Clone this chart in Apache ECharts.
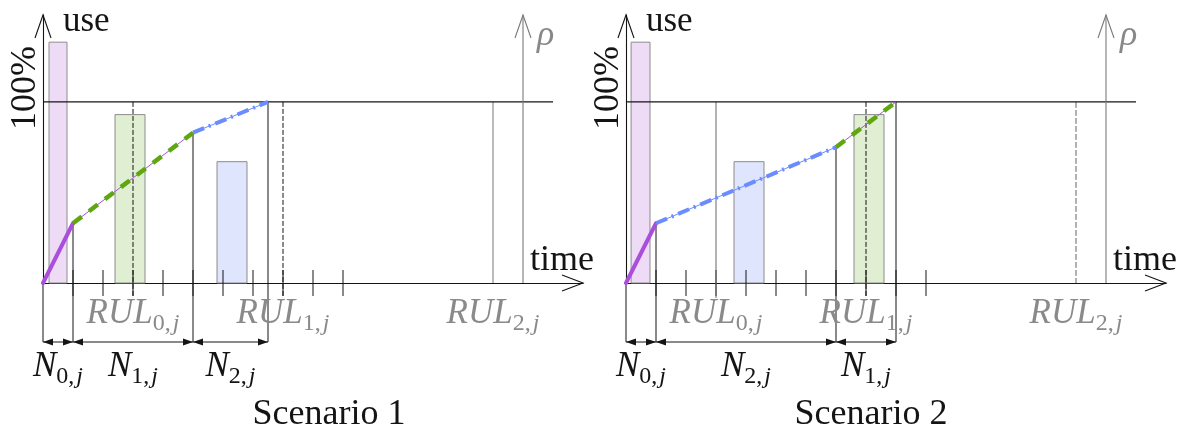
<!DOCTYPE html>
<html><head><meta charset="utf-8">
<script src="https://cdn.jsdelivr.net/npm/echarts@6/dist/echarts.min.js"></script>
<style>html,body{margin:0;padding:0;background:#fff}#c{width:1179px;height:432px}</style>
</head><body><div id="c"></div>
<script>
// ---------------- data ----------------
const T_MAX = 18;            // time axis extent
const Y_MAX = 148;           // use axis extent (%)
const FULL = 100;            // 100 % level
const FULL_END = 17;         // where the 100 % line stops
const RHO_T = 16;            // position of the rho axis
const ticks = [1, 2, 3, 4, 5, 6, 7, 8, 9, 10];
const phaseLoad = [133, 93, 67];      // bar height of phase 0,1,2
const rulTimes = [3, 8, 15];
const rulIdx = ['0', '1', '2'];
const titles = ['Scenario 1', 'Scenario 2'];

// Scenario 1
const s1Path = [[0, 0], [1, 33], [5, 83], [7.5, 100]];
const s1Order = [0, 1, 2];
const s1BarSpans = [[0.2, 0.8], [2.4, 3.4], [5.8, 6.8]];
const s1RulLook = ['dash', 'dash', 'gray'];
// Scenario 2
const s2Path = [[0, 0], [1, 33], [7, 75], [9, 100]];
const s2Order = [0, 2, 1];
const s2BarSpans = [[0.17, 0.8], [3.6, 4.6], [7.6, 8.6]];
const s2RulLook = ['graySolid', 'dash', 'grayDash'];

// ---------------- style ----------------
const PHASE_COLOR = ['#a94fdc', '#5ea70f', '#6a8cff'];
const PHASE_FILL = ['#eedcf6', '#e0efd2', '#dfe5fc'];
const INK = '#141414', GRAY = '#888888';
const SERIF = '"Liberation Serif","DejaVu Serif",serif';
const RUL_LOOK = {
  dash: { stroke: INK, dash: [5, 2], ext: 15 },
  graySolid: { stroke: '#666', dash: null, ext: 15 },
  gray: { stroke: '#777', dash: null, ext: 0 },
  grayDash: { stroke: '#666', dash: [6, 2], ext: 0 }
};
const GRID_LEFT = [43, 626];
const TITLE_X = [329, 871];

function richSub(color) {
  return {
    m: { fontFamily: SERIF, fontSize: 35, fontStyle: 'italic', fill: color, lineHeight: 40, verticalAlign: 'top' },
    s: { fontFamily: SERIF, fontSize: 24, fontStyle: 'normal', fill: color, lineHeight: 24, verticalAlign: 'bottom' },
    j: { fontFamily: SERIF, fontSize: 24, fontStyle: 'italic', fill: color, lineHeight: 24, verticalAlign: 'bottom', padding: [0, 0, 0, 2] }
  };
}
function subText(main, idx) { return '{m|' + main + '}{s|' + idx + ',}{j|j}'; }

function scenarioSeries(g, path, order, barSpans, rulLook) {
  const ax = { xAxisIndex: g, yAxisIndex: g };
  const list = [];
  // bars
  list.push(Object.assign({
    type: 'custom', z: 1, clip: false,
    data: barSpans.map((s, k) => [s[0], s[1], phaseLoad[order[k]], order[k]]),
    renderItem: (p, api) => {
      const a = api.coord([api.value(0), api.value(2)]);
      const b = api.coord([api.value(1), 0]);
      const ph = api.value(3);
      return { type: 'rect', shape: { x: a[0], y: a[1], width: b[0] - a[0], height: b[1] - a[1] },
        style: { fill: PHASE_FILL[ph], stroke: '#8c8c8c', lineWidth: 1 } };
    }
  }, ax));
  // ticks
  list.push(Object.assign({
    type: 'custom', z: 2, clip: false, data: ticks.map(t => [t]),
    renderItem: (p, api) => {
      const c = api.coord([api.value(0), 0]);
      return { type: 'line', shape: { x1: c[0], y1: c[1] - 13, x2: c[0], y2: c[1] + 13 }, style: { stroke: INK, lineWidth: 1 } };
    }
  }, ax));
  // phase boundary verticals
  list.push(Object.assign({
    type: 'custom', z: 2, clip: false, data: path.map(pt => [pt[0], pt[1]]),
    renderItem: (p, api) => {
      const a = api.coord([api.value(0), api.value(1)]);
      const b = api.coord([api.value(0), 0]);
      return { type: 'line', shape: { x1: a[0], y1: a[1], x2: b[0], y2: b[1] + 59 }, style: { stroke: INK, lineWidth: 1 } };
    }
  }, ax));
  // RUL verticals + labels
  list.push(Object.assign({
    type: 'custom', z: 2, clip: false, data: rulTimes.map((t, k) => [t, k]),
    renderItem: (p, api) => {
      const k = api.value(1);
      const look = RUL_LOOK[rulLook[k]];
      const a = api.coord([api.value(0), FULL]);
      const b = api.coord([api.value(0), 0]);
      return { type: 'group', children: [
        { type: 'line', shape: { x1: a[0], y1: a[1], x2: b[0], y2: b[1] + look.ext },
          style: { stroke: look.stroke, lineWidth: 1, lineDash: look.dash } },
        { type: 'text', x: b[0], y: b[1] + 33, z2: 5,
          style: { text: subText('RUL', rulIdx[k]), rich: richSub('#8a8a8a'), align: 'center', verticalAlign: 'middle' } }
      ] };
    }
  }, ax));
  // brackets N
  const brackets = [];
  for (let k = 0; k < path.length - 1; k++) brackets.push([path[k][0], path[k + 1][0], order[k]]);
  list.push(Object.assign({
    type: 'custom', z: 2, clip: false, data: brackets,
    renderItem: (p, api) => {
      const a = api.coord([api.value(0), 0]), b = api.coord([api.value(1), 0]);
      const y = a[1] + 59, L = 10, H = 3.5;
      return { type: 'group', children: [
        { type: 'line', shape: { x1: a[0], y1: y, x2: b[0], y2: y }, style: { stroke: INK, lineWidth: 1 } },
        { type: 'polygon', shape: { points: [[a[0], y], [a[0] + L, y - H], [a[0] + L, y + H]] }, style: { fill: INK } },
        { type: 'polygon', shape: { points: [[b[0], y], [b[0] - L, y - H], [b[0] - L, y + H]] }, style: { fill: INK } },
        { type: 'text', x: (a[0] + b[0]) / 2, y: y + 27,
          style: { text: subText('N', String(api.value(2))), rich: richSub(INK), align: 'center', verticalAlign: 'middle' } }
      ] };
    }
  }, ax));
  // decorations: arrows, 100% line, rho axis, texts
  list.push(Object.assign({
    type: 'custom', z: 2, clip: false, data: [[0]],
    renderItem: (p, api) => {
      const o = api.coord([0, 0]);
      const xe = api.coord([T_MAX, 0]);
      const ye = api.coord([0, Y_MAX]);
      const f0 = api.coord([0, FULL]), f1 = api.coord([FULL_END, FULL]);
      const r0 = api.coord([RHO_T, 0]), r1 = api.coord([RHO_T, Y_MAX]);
      const ln = (pts, col) => ({ type: 'polyline', shape: { points: pts }, style: { stroke: col, lineWidth: 1.1, fill: null } });
      return { type: 'group', children: [
        { type: 'line', shape: { x1: f0[0], y1: f0[1], x2: f1[0], y2: f1[1] }, style: { stroke: INK, lineWidth: 1.1 } },
        ln([[xe[0] - 21, xe[1] - 8], [xe[0], xe[1]], [xe[0] - 21, xe[1] + 8]], INK),
        ln([[ye[0] - 8, ye[1] + 23], [ye[0], ye[1]], [ye[0] + 8, ye[1] + 23]], INK),
        ln([[r0[0], r0[1]], [r1[0], r1[1]]], '#7a7a7a'),
        ln([[r1[0] - 8, r1[1] + 23], [r1[0], r1[1]], [r1[0] + 8, r1[1] + 23]], '#7a7a7a'),
        { type: 'text', x: o[0] + 20, y: ye[1] + 7, style: { text: 'use', font: '35px ' + SERIF, fill: INK, align: 'left', verticalAlign: 'middle' } },
        { type: 'text', x: xe[0] - 53, y: o[1] - 22, style: { text: 'time', font: '36px ' + SERIF, fill: INK, align: 'left', verticalAlign: 'middle' } },
        { type: 'text', x: r1[0] + 14, y: r1[1] + 21, style: { text: 'ρ', font: 'italic 36px ' + SERIF, fill: GRAY, align: 'left', verticalAlign: 'middle' } },
        { type: 'text', x: o[0] - 17, y: f0[1] - 14, rotation: Math.PI / 2,
          style: { text: '100%', font: '36px ' + SERIF, fill: INK, align: 'center', verticalAlign: 'middle' } }
      ] };
    }
  }, ax));
  // use curve segments
  for (let k = 0; k < path.length - 1; k++) {
    const ph = order[k];
    const seg = [path[k], path[k + 1]];
    if (ph === 0) {
      list.push(Object.assign({ type: 'line', z: 4, data: seg, showSymbol: false, silent: true,
        lineStyle: { color: PHASE_COLOR[0], width: 4, cap: 'round' } }, ax));
    } else {
      const under = ph === 1 ? PHASE_COLOR[0] : PHASE_COLOR[2];
      list.push(Object.assign({ type: 'line', z: 3, data: seg, showSymbol: false, silent: true,
        lineStyle: { color: under, width: 1 } }, ax));
      list.push(Object.assign({ type: 'line', z: 4, data: seg, showSymbol: false, silent: true,
        lineStyle: { color: PHASE_COLOR[ph], width: ph === 1 ? 4.5 : 4,
          type: ph === 1 ? [11, 9] : [12, 5, 2, 5] } }, ax));
    }
  }
  return list;
}

const chart = echarts.init(document.getElementById('c'), null, { renderer: 'canvas' });
const axisBase = {
  type: 'value', axisTick: { show: false }, axisLabel: { show: false }, splitLine: { show: false },
  axisLine: { show: true, lineStyle: { color: INK, width: 1.1 } }
};
chart.setOption({
  animation: false,
  backgroundColor: '#fff',
  grid: GRID_LEFT.map(l => ({ left: l, top: 15, width: 540, height: 268, containLabel: false })),
  xAxis: [0, 1].map(i => Object.assign({}, axisBase, { gridIndex: i, min: 0, max: T_MAX })),
  yAxis: [0, 1].map(i => Object.assign({}, axisBase, { gridIndex: i, min: 0, max: Y_MAX })),
  graphic: titles.map((t, i) => ({ type: 'text', x: TITLE_X[i], y: 415,
    style: { text: t, font: '36px ' + SERIF, fill: INK, align: 'center', verticalAlign: 'middle' } })),
  series: [].concat(
    scenarioSeries(0, s1Path, s1Order, s1BarSpans, s1RulLook),
    scenarioSeries(1, s2Path, s2Order, s2BarSpans, s2RulLook)
  )
});
</script></body></html>
